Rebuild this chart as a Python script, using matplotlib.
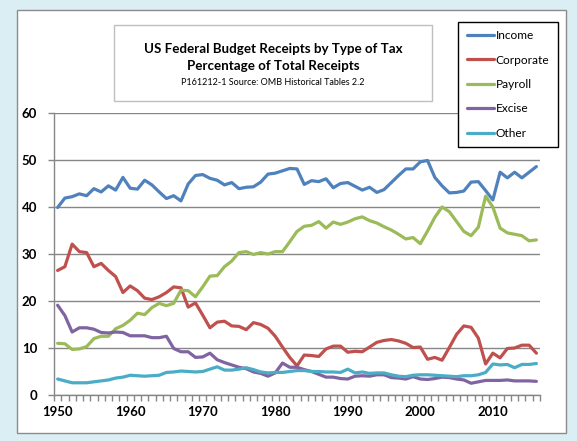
import matplotlib
matplotlib.use("Agg")
import matplotlib.pyplot as plt
from matplotlib.patches import Rectangle
import numpy as np

plt.rcParams['font.family'] = ['Lato', 'DejaVu Sans']

years = list(range(1950, 2017))

income = [39.9, 41.9, 42.2, 42.8, 42.4, 43.9, 43.2, 44.5, 43.6, 46.3,
          44.0, 43.8, 45.7, 44.7, 43.2, 41.8, 42.4, 41.3, 44.9, 46.7,
          46.9, 46.1, 45.7, 44.7, 45.2, 43.9, 44.2, 44.3, 45.3, 47.0,
          47.2, 47.7, 48.2, 48.1, 44.8, 45.6, 45.4, 46.0, 44.1, 45.0,
          45.2, 44.4, 43.6, 44.2, 43.1, 43.7, 45.2, 46.7, 48.1, 48.1,
          49.6, 49.9, 46.3, 44.5, 43.0, 43.1, 43.4, 45.3, 45.4, 43.5,
          41.5, 47.4, 46.2, 47.4, 46.2, 47.4, 48.6]

corporate = [26.5, 27.3, 32.1, 30.5, 30.3, 27.3, 28.0, 26.5, 25.2, 21.8,
             23.2, 22.2, 20.6, 20.3, 20.9, 21.8, 23.0, 22.8, 18.7, 19.6,
             17.0, 14.3, 15.5, 15.7, 14.7, 14.6, 13.9, 15.4, 15.0, 14.2,
             12.5, 10.2, 8.0, 6.2, 8.5, 8.4, 8.2, 9.8, 10.4, 10.4,
             9.1, 9.3, 9.2, 10.2, 11.2, 11.6, 11.8, 11.5, 11.0, 10.1,
             10.2, 7.6, 8.0, 7.4, 10.1, 12.9, 14.7, 14.4, 12.1, 6.6,
             8.9, 7.9, 9.9, 10.0, 10.6, 10.6, 8.9]

payroll = [11.0, 10.9, 9.7, 9.8, 10.3, 12.0, 12.5, 12.5, 14.1, 14.8,
           15.9, 17.4, 17.1, 18.6, 19.5, 19.0, 19.5, 22.3, 22.2, 20.9,
           23.0, 25.3, 25.4, 27.3, 28.5, 30.3, 30.5, 29.9, 30.3, 30.0,
           30.5, 30.5, 32.6, 34.8, 35.9, 36.1, 36.9, 35.5, 36.8, 36.3,
           36.8, 37.5, 37.9, 37.1, 36.6, 35.8, 35.1, 34.2, 33.2, 33.5,
           32.2, 34.9, 37.8, 40.0, 39.0, 36.9, 34.8, 33.9, 35.7, 42.3,
           40.0, 35.5, 34.5, 34.2, 33.9, 32.8, 33.0]

excise = [19.1, 16.9, 13.4, 14.3, 14.3, 14.0, 13.3, 13.2, 13.4, 13.3,
          12.6, 12.6, 12.6, 12.2, 12.2, 12.5, 9.9, 9.2, 9.2, 8.0,
          8.1, 8.9, 7.5, 6.9, 6.4, 5.9, 5.6, 4.9, 4.6, 4.0,
          4.7, 6.8, 5.9, 5.9, 5.4, 5.0, 4.4, 3.8, 3.8, 3.5,
          3.4, 4.0, 4.1, 4.0, 4.3, 4.3, 3.7, 3.6, 3.4, 3.9,
          3.4, 3.3, 3.5, 3.8, 3.7, 3.4, 3.2, 2.5, 2.8, 3.1,
          3.1, 3.1, 3.2, 3.0, 3.0, 3.0, 2.9]

other = [3.4, 3.0, 2.6, 2.6, 2.6, 2.8, 3.0, 3.2, 3.6, 3.8,
         4.2, 4.1, 4.0, 4.1, 4.2, 4.8, 4.9, 5.1, 5.0, 4.9,
         5.0, 5.5, 6.0, 5.3, 5.3, 5.5, 5.8, 5.4, 4.9, 4.7,
         4.8, 4.8, 5.0, 5.2, 5.2, 5.0, 5.0, 4.9, 4.9, 4.8,
         5.5, 4.7, 4.9, 4.6, 4.7, 4.7, 4.3, 4.0, 3.9, 4.2,
         4.3, 4.3, 4.2, 4.1, 4.0, 3.9, 4.1, 4.1, 4.3, 4.8,
         6.6, 6.4, 6.5, 5.8, 6.5, 6.5, 6.7]

series_names = ['Income', 'Corporate', 'Payroll', 'Excise', 'Other']
series_values = [income, corporate, payroll, excise, other]
colors = ['#4F81BD', '#C0504D', '#9BBB59', '#8064A2', '#4BACC6']

title_lines = ['US Federal Budget Receipts by Type of Tax',
               'Percentage of Total Receipts',
               'P161212-1 Source: OMB Historical Tables 2.2']

W, H = 577, 441
fig = plt.figure(figsize=(W / 100, H / 100), dpi=100)
fig.patch.set_facecolor('#DAEEF3')

# chart area
fig.add_artist(Rectangle((17 / W, 1 - 433 / H), (566 - 17) / W, (433 - 10) / H,
                         transform=fig.transFigure, facecolor='white',
                         edgecolor='#8C8C8C', lw=1.0, zorder=-10))

ax = fig.add_axes([54 / W, 1 - 395 / H, (540 - 54) / W, (395 - 113) / H])
ax.set_facecolor('none')
for name, vals, c in zip(series_names, series_values, colors):
    ax.plot(years, vals, color=c, lw=2.3, label=name, solid_capstyle='round',
            solid_joinstyle='round')

ax.set_xlim(1949.5, 2016.5)
ax.set_ylim(0, 60)
ax.set_yticks(range(0, 61, 10))
ax.set_xticks(range(1950, 2011, 10))
ax.set_xticks(np.arange(1949.5, 2017, 1), minor=True)
ax.grid(axis='y', color='#868686', lw=1.0)
ax.set_axisbelow(True)
for s in ['top', 'right']:
    ax.spines[s].set_visible(False)
for s in ['left', 'bottom']:
    ax.spines[s].set_color('#868686')
    ax.spines[s].set_linewidth(1.0)
ax.tick_params(axis='x', which='major', length=0, pad=8)
ax.tick_params(axis='x', which='minor', length=4, color='#868686', width=1)
ax.tick_params(axis='y', which='major', length=4, color='#868686', width=1, pad=8)
for lab in ax.get_xticklabels() + ax.get_yticklabels():
    lab.set_fontweight('bold')
    lab.set_fontsize(9.5)

# title box
fig.add_artist(Rectangle((114 / W, 1 - 100.7 / H), (431.7 - 114) / W, (100.7 - 25.3) / H,
                         transform=fig.transFigure, facecolor='white',
                         edgecolor='#BFBFBF', lw=1.0, zorder=5))
cx = (114 + 431.7) / 2 / W
fig.text(cx, 1 - 48.8 / H, title_lines[0], ha='center', va='center',
         fontsize=9.6, fontweight='bold', zorder=6)
fig.text(cx, 1 - 66.3 / H, title_lines[1], ha='center', va='center',
         fontsize=9.6, fontweight='bold', zorder=6)
fig.text(cx, 1 - 82.3 / H, title_lines[2], ha='center', va='center',
         fontsize=6.5, zorder=6)

leg = ax.legend(loc='upper left', bbox_to_anchor=(458 / W, 1 - 21.7 / H),
                bbox_transform=fig.transFigure, frameon=True, fancybox=False,
                edgecolor='black', framealpha=1, fontsize=8.6, handlelength=2.3,
                handletextpad=0.15, labelspacing=1.12, borderpad=0.72,
                borderaxespad=0)
leg.get_frame().set_linewidth(1.0)
leg.set_zorder(10)

fig.savefig('out.png', dpi=100, facecolor=fig.get_facecolor())
